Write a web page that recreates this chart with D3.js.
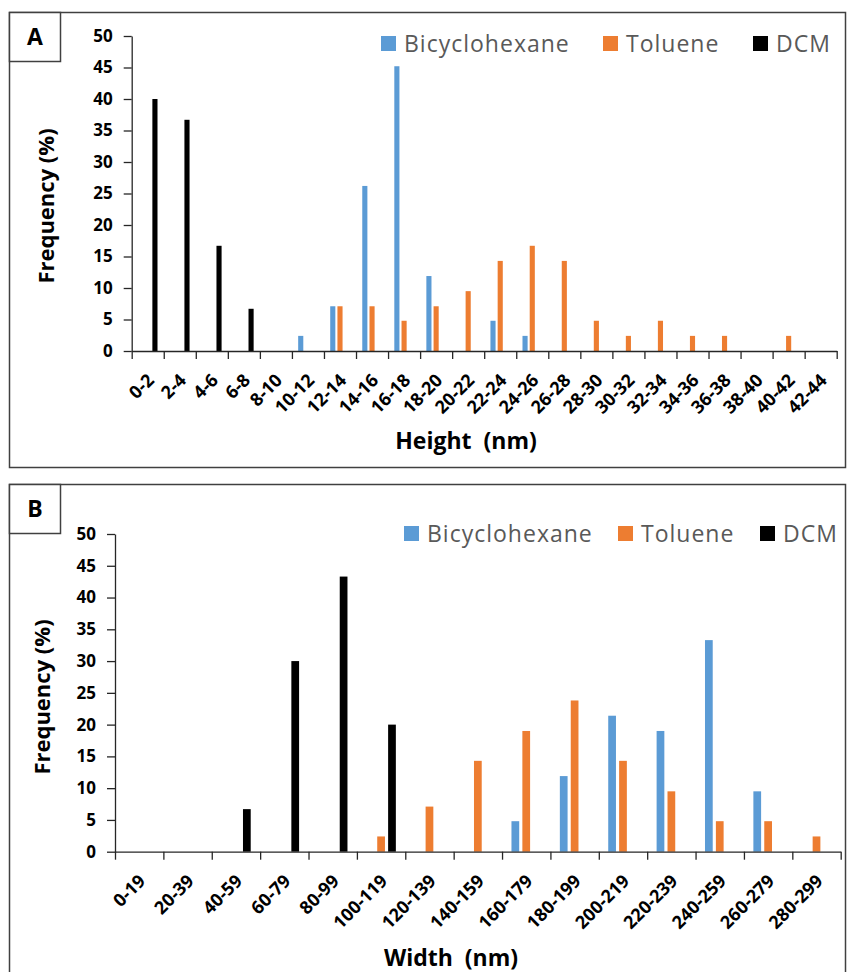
<!DOCTYPE html>
<html>
<head>
<meta charset="utf-8">
<script src="https://cdn.jsdelivr.net/npm/d3@7"></script>
<style>
  body { margin: 0; background: #fff; }
  text { font-family: "Open Sans", "DejaVu Sans", sans-serif; }
</style>
</head>
<body>
<div id="chart"></div>
<script>
// series names and colours
var seriesNames = ["Bicyclohexane", "Toluene", "DCM"];
var seriesColors = ["#5B9BD5", "#ED7D31", "#000000"];
var yTicks = [0, 5, 10, 15, 20, 25, 30, 35, 40, 45, 50];

// panel A : height distribution
var heightCats = ["0-2","2-4","4-6","6-8","8-10","10-12","12-14","14-16","16-18","18-20","20-22",
                  "22-24","24-26","26-28","28-30","30-32","32-34","34-36","36-38","38-40","40-42","42-44"];
var heightBicyclohexane = [0,0,0,0,0,2.4,7.1,26.2,45.2,11.9,0,4.8,2.4,0,0,0,0,0,0,0,0,0];
var heightToluene       = [0,0,0,0,0,0,7.1,7.1,4.8,7.1,9.5,14.3,16.7,14.3,4.8,2.4,4.8,2.4,2.4,0,2.4,0];
var heightDCM           = [40,36.7,16.7,6.7,0,0,0,0,0,0,0,0,0,0,0,0,0,0,0,0,0,0];

// panel B : width distribution
var widthCats = ["0-19","20-39","40-59","60-79","80-99","100-119","120-139","140-159","160-179",
                 "180-199","200-219","220-239","240-259","260-279","280-299"];
var widthBicyclohexane = [0,0,0,0,0,0,0,0,4.8,11.9,21.4,19,33.3,9.5,0];
var widthToluene       = [0,0,0,0,0,2.4,7.1,14.3,19,23.8,14.3,9.5,4.8,4.8,2.4];
var widthDCM           = [0,0,6.7,30,43.3,20,0,0,0,0,0,0,0,0,0];

var W = 847, H = 972;
var svg = d3.select("#chart").append("svg")
    .attr("width", W)
    .attr("height", H);
svg.append("rect").attr("width", W).attr("height", H).attr("fill", "#fff");

function drawPanel(p){
    var g = svg.append("g");

    // frame and letter box
    g.append("rect")
	.attr("x", 9.5).attr("y", p.boxTop + 0.5)
	.attr("width", 836).attr("height", p.boxH)
	.attr("fill", "none").attr("stroke", "#404040").attr("stroke-width", 1.5);
    g.append("rect")
	.attr("x", 9.5).attr("y", p.boxTop + 0.5)
	.attr("width", 51).attr("height", 49)
	.attr("fill", "#fff").attr("stroke", "#404040").attr("stroke-width", 1.5);
    g.append("text")
	.attr("x", 35).attr("y", p.boxTop + 25)
	.attr("dy", "0.35em")
	.attr("text-anchor", "middle")
	.style("font-size", "23px").style("font-weight", "bold")
	.text(p.letter);

    var cats = p.cats;
    var x0 = d3.scaleBand().domain(cats).range([p.left, p.right]).padding(0);
    var x1 = d3.scaleBand().domain(seriesNames)
	.range([0.16 * x0.bandwidth(), 0.84 * x0.bandwidth()])
	.paddingInner(0.29).paddingOuter(0.155);
    var y = d3.scaleLinear().domain([0, 50]).range([p.bottom, p.top]);
    var xb = d3.scaleLinear().domain([0, cats.length]).range([p.left, p.right]);

    // bars
    var rows = [];
    cats.forEach(function(c, i){
	p.values.forEach(function(vals, s){
	    rows.push({cat: c, series: seriesNames[s], value: vals[i], color: seriesColors[s]});
	});
    });
    g.selectAll(".bar")
	.data(rows.filter(function(d){ return d.value > 0; }))
	.enter()
	.append("rect")
	.attr("class", "bar")
	.attr("x", function(d){ return x0(d.cat) + x1(d.series); })
	.attr("y", function(d){ return y(d.value); })
	.attr("width", x1.bandwidth())
	.attr("height", function(d){ return y(0) - y(d.value); })
	.attr("fill", function(d){ return d.color; });

    // y axis
    var ya = g.append("g")
	.attr("transform", "translate(" + p.left + ",0)")
	.call(d3.axisLeft(y).tickValues(yTicks).tickSize(8).tickSizeOuter(0).tickPadding(11));
    ya.selectAll("text")
	.style("font-size", "17px").style("font-weight", "bold").attr("fill", "#000");

    // x axis: ticks on category boundaries
    var xa = g.append("g")
	.attr("transform", "translate(0," + p.bottom + ")")
	.call(d3.axisBottom(xb).ticks(cats.length).tickSize(8).tickSizeOuter(0).tickFormat(""));

    // category labels, rotated
    var xl = g.append("g")
	.attr("transform", "translate(0," + p.bottom + ")")
	.call(d3.axisBottom(x0).tickSize(0).tickPadding(0));
    xl.select(".domain").remove();
    xl.selectAll("text")
	.attr("y", 0)
	.attr("dy", "0.35em")
	.attr("transform", "translate(" + p.labDx + "," + p.labDy + ")rotate(-45)")
	.style("text-anchor", "end")
	.style("font-size", "18px").style("font-weight", "bold").attr("fill", "#000");

    g.selectAll(".domain, .tick line").attr("stroke", "#262626").attr("stroke-width", 1.3);

    // axis titles
    g.append("text")
	.attr("transform", "translate(" + p.yTitleX + "," + p.yTitleY + ")rotate(-90)")
	.attr("text-anchor", "middle")
	.attr("dy", "0.35em")
	.style("font-size", "22px").style("font-weight", "bold")
	.text("Frequency (%)");
    g.append("text")
	.attr("x", p.xTitleX).attr("y", p.xTitleY)
	.attr("text-anchor", "middle")
	.style("font-size", "23px").style("font-weight", "bold")
	.style("white-space", "pre")
	.text(p.xTitle);

    // legend
    var lg = g.selectAll(".leg")
	.data(seriesNames)
	.enter()
	.append("g")
	.attr("class", "leg")
	.attr("transform", function(d, i){ return "translate(" + p.legX[i] + "," + p.legY + ")"; });
    lg.append("rect")
	.attr("x", 0).attr("y", -8)
	.attr("width", 15).attr("height", 15)
	.attr("fill", function(d, i){ return seriesColors[i]; });
    lg.append("text")
	.attr("x", 23).attr("y", 0)
	.attr("dy", "0.35em")
	.style("font-size", "23px")
	.style("letter-spacing", "1px")
	.attr("fill", "#595959")
	.text(function(d){ return d; });
}

drawPanel({
    letter: "A", boxTop: 12, boxH: 455,
    cats: heightCats,
    values: [heightBicyclohexane, heightToluene, heightDCM],
    left: 131.7, right: 836.7, top: 36, bottom: 351,
    labDx: 3, labDy: 26,
    yTitleX: 46, yTitleY: 206,
    xTitleX: 466, xTitleY: 449, xTitle: "Height  (nm)",
    legX: [381, 603, 753], legY: 44
});

drawPanel({
    letter: "B", boxTop: 484, boxH: 520,
    cats: widthCats,
    values: [widthBicyclohexane, widthToluene, widthDCM],
    left: 115, right: 840.7, top: 534, bottom: 851.7,
    labDx: 3, labDy: 26,
    yTitleX: 42, yTitleY: 697,
    xTitleX: 451, xTitleY: 966, xTitle: "Width  (nm)",
    legX: [404, 618, 760], legY: 534
});
</script>
</body>
</html>
